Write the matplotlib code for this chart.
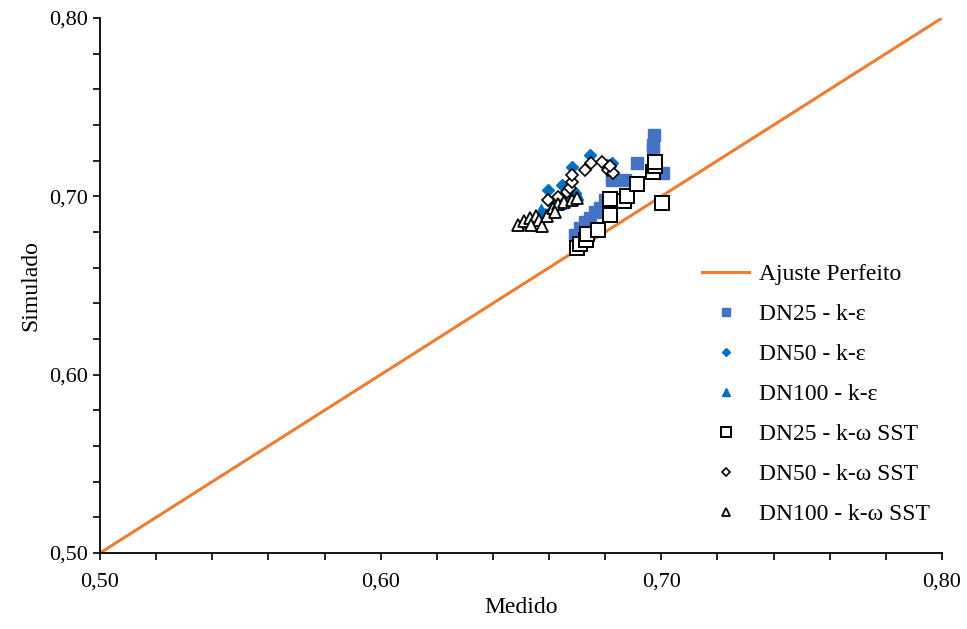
import matplotlib.pyplot as plt
from matplotlib.ticker import MultipleLocator, FuncFormatter

plt.rcParams["font.family"] = ["Liberation Serif", "DejaVu Serif"]

# data (Medido, Simulado)
dn25_ke_x = [0.6692, 0.6710, 0.6728, 0.6746, 0.6763, 0.6781, 0.6799, 0.6824, 0.6824,
             0.6870, 0.6913, 0.6970, 0.6970, 0.6974, 0.7006]
dn25_ke_y = [0.6783, 0.6823, 0.6856, 0.6879, 0.6912, 0.6935, 0.6980, 0.7109, 0.7092,
             0.7092, 0.7187, 0.7260, 0.7288, 0.7344, 0.7131]

dn50_ke_x = [0.6596, 0.6621, 0.6646, 0.6657, 0.6682, 0.6692, 0.6746, 0.6806, 0.6817, 0.6824]
dn50_ke_y = [0.7036, 0.6980, 0.7064, 0.7002, 0.7165, 0.7019, 0.7232, 0.7176, 0.7170, 0.7187]

dn100_ke_x = [0.6525, 0.6557, 0.6571, 0.6585, 0.6610, 0.6639, 0.6667, 0.6699]
dn100_ke_y = [0.6856, 0.6879, 0.6924, 0.6901, 0.6946, 0.6963, 0.6985, 0.7013]

dn25_sst_x = [0.6699, 0.6710, 0.6731, 0.6735, 0.6774, 0.6817, 0.6817, 0.6867, 0.6877,
              0.6913, 0.6970, 0.6977, 0.6977, 0.7002]
dn25_sst_y = [0.6711, 0.6733, 0.6755, 0.6789, 0.6812, 0.6896, 0.6985, 0.6974, 0.7002,
              0.7070, 0.7137, 0.7171, 0.7193, 0.6963]

dn50_sst_x = [0.6596, 0.6632, 0.6664, 0.6674, 0.6682, 0.6682, 0.6728, 0.6749, 0.6788,
              0.6810, 0.6828, 0.6817]
dn50_sst_y = [0.6980, 0.6997, 0.7025, 0.7047, 0.7081, 0.7120, 0.7148, 0.7187, 0.7193,
              0.7148, 0.7131, 0.7171]

dn100_sst_x = [0.6489, 0.6510, 0.6532, 0.6553, 0.6564, 0.6575, 0.6535, 0.6592, 0.6614,
               0.6632, 0.6653, 0.6682, 0.6699, 0.6621]
dn100_sst_y = [0.6840, 0.6862, 0.6879, 0.6890, 0.6868, 0.6834, 0.6840, 0.6890, 0.6935,
               0.6957, 0.6969, 0.6980, 0.6991, 0.6912]

fit_x = [0.5, 0.8]

fig = plt.figure(figsize=(9.67, 6.29), dpi=100)
ax = fig.add_axes([100 / 967, 1 - 553 / 629, 842 / 967, 535 / 629])

ax.plot(fit_x, fit_x, color="#ED7D31", lw=2.2, label="Ajuste Perfeito", zorder=1)
ax.plot(dn25_ke_x, dn25_ke_y, ls="none", marker="s", ms=8.5, color="#4472C4",
        mec="#4472C4", label="DN25 - k-ε", zorder=2)
ax.plot(dn50_ke_x, dn50_ke_y, ls="none", marker="D", ms=6.5, color="#0070C0",
        mec="#0070C0", label="DN50 - k-ε", zorder=2)
ax.plot(dn100_ke_x, dn100_ke_y, ls="none", marker="^", ms=8.5, color="#0070C0",
        mec="#0070C0", label="DN100 - k-ε", zorder=2)
ax.plot(dn25_sst_x, dn25_sst_y, ls="none", marker="s", ms=10.5, mfc="white",
        mec="black", mew=1.4, label="DN25 - k-ω SST", zorder=3)
ax.plot(dn50_sst_x, dn50_sst_y, ls="none", marker="D", ms=6.5, mfc="white",
        mec="black", mew=1.2, label="DN50 - k-ω SST", zorder=3)
ax.plot(dn100_sst_x, dn100_sst_y, ls="none", marker="^", ms=9, mfc="white",
        mec="black", mew=1.3, label="DN100 - k-ω SST", zorder=3)

ax.set_xlim(0.5, 0.8)
ax.set_ylim(0.5, 0.8)
fmt = FuncFormatter(lambda v, p: f"{v:.2f}".replace(".", ","))
for axis in (ax.xaxis, ax.yaxis):
    axis.set_major_locator(MultipleLocator(0.1))
    axis.set_minor_locator(MultipleLocator(0.02))
    axis.set_major_formatter(fmt)
ax.tick_params(which="both", direction="out", length=5, width=1.2, labelsize=16)
ax.tick_params(axis="x", pad=9)
ax.spines["top"].set_visible(False)
ax.spines["right"].set_visible(False)
ax.spines["left"].set_linewidth(1.3)
ax.spines["bottom"].set_linewidth(1.3)

ax.set_xlabel("Medido", fontsize=17, labelpad=4)
ax.set_ylabel("Simulado", fontsize=17, labelpad=6)

leg = ax.legend(loc="upper left", bbox_to_anchor=(0.69, 0.58), frameon=False,
                fontsize=17, labelspacing=0.78, handlelength=2.0, handletextpad=0.4,
                markerscale=0.7)

fig.savefig("out.png", dpi=100)
